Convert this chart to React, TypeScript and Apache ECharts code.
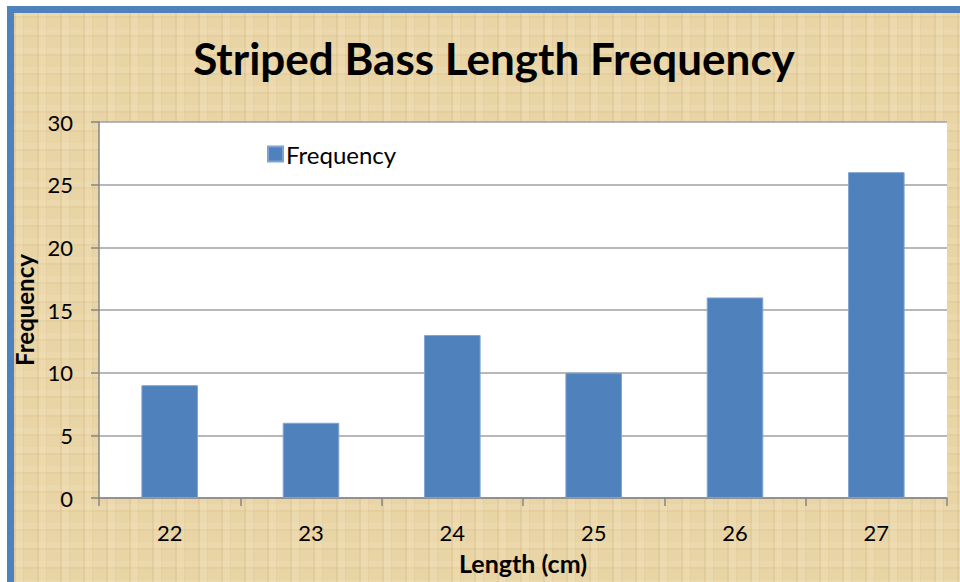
import React, { useEffect, useRef } from "react";
import * as echarts from "echarts";

const categories = ["22", "23", "24", "25", "26", "27"];
const frequencyValues = [9, 6, 13, 10, 16, 26];
const yTicks = { min: 0, max: 30, interval: 5 };

const FONT = "Lato, 'Open Sans', sans-serif";

const paper: React.CSSProperties = {
  position: "absolute",
  left: 7,
  top: 6,
  width: 1000,
  height: 1000,
  boxSizing: "border-box",
  borderLeft: "7px solid #4F81BD",
  borderTop: "7px solid #4F81BD",
  backgroundColor: "#E9D4A6",
  backgroundImage: [
    "repeating-linear-gradient(90deg, rgba(190,155,90,0.14) 0px, rgba(190,155,90,0.14) 2px, rgba(255,248,225,0.12) 2px, rgba(255,248,225,0.12) 9px, rgba(190,155,90,0.08) 9px, rgba(190,155,90,0.08) 10px, rgba(255,255,255,0) 10px, rgba(255,255,255,0) 23px)",
    "repeating-linear-gradient(0deg, rgba(190,155,90,0.10) 0px, rgba(190,155,90,0.10) 2px, rgba(255,248,225,0.10) 2px, rgba(255,248,225,0.10) 8px, rgba(255,255,255,0) 8px, rgba(255,255,255,0) 19px)",
  ].join(","),
};

export default function App() {
  const ref = useRef<HTMLDivElement>(null);
  useEffect(() => {
    if (!ref.current) return;
    const chart = echarts.init(ref.current, null, { renderer: "svg" });
    chart.setOption({
      animation: false,
      backgroundColor: "transparent",
      title: {
        text: "Striped Bass Length Frequency",
        left: 489,
        textAlign: "center",
        top: 31,
        textStyle: { fontFamily: FONT, fontWeight: "bold", fontSize: 44, color: "#000" },
      },
      legend: {
        left: 262,
        top: 137,
        itemWidth: 15,
        itemHeight: 15,
        itemGap: 6,
        icon: "rect",
        textStyle: { fontFamily: FONT, fontSize: 24, color: "#000", padding: [0, 0, 0, -2] },
        data: ["Frequency"],
      },
      grid: { left: 99, top: 122, right: 13, bottom: 84, containLabel: false, show: true, backgroundColor: "#ffffff", borderWidth: 0 },
      xAxis: {
        type: "category",
        data: categories,
        name: "Length (cm)",
        nameLocation: "middle",
        nameGap: 52,
        nameTextStyle: { fontFamily: FONT, fontWeight: "bold", fontSize: 25, color: "#000" },
        axisLine: { show: true, lineStyle: { color: "#868686", width: 1.5 } },
        axisTick: { show: true, length: 8, alignWithLabel: false, lineStyle: { color: "#868686", width: 1.5 } },
        axisLabel: { margin: 23, fontFamily: FONT, fontSize: 22, color: "#000" },
      },
      yAxis: {
        type: "value",
        min: yTicks.min,
        max: yTicks.max,
        interval: yTicks.interval,
        name: "Frequency",
        nameLocation: "middle",
        nameGap: 48,
        nameTextStyle: { fontFamily: FONT, fontWeight: "bold", fontSize: 24, color: "#000" },
        axisLine: { show: true, lineStyle: { color: "#868686", width: 1.5 } },
        axisTick: { show: true, length: 8, lineStyle: { color: "#868686", width: 1.5 } },
        axisLabel: { margin: 26, fontFamily: FONT, fontSize: 22, color: "#000" },
        splitLine: { show: true, lineStyle: { color: "#A0A0A0", width: 1.5 } },
      },
      series: [
        {
          name: "Frequency",
          type: "bar",
          data: frequencyValues,
          barWidth: "40%",
          itemStyle: { color: "#4F81BD", borderColor: "#7FA3D0", borderWidth: 1 },
        },
      ],
    });
    return () => chart.dispose();
  }, []);
  return (
    <div style={{ position: "absolute", left: 0, top: 0, width: 960, height: 582, overflow: "hidden", background: "#fff" }}>
      <div style={paper} />
      <div ref={ref} style={{ position: "absolute", left: 0, top: 0, width: 960, height: 582 }} />
    </div>
  );
}
